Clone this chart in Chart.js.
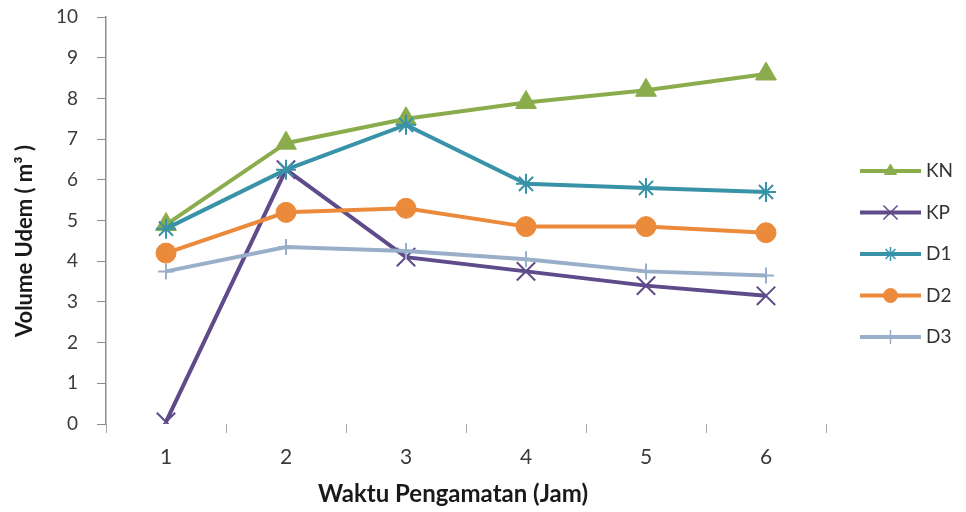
<!DOCTYPE html>
<html>
<head>
<meta charset="utf-8">
<script src="https://cdn.jsdelivr.net/npm/chart.js@4/dist/chart.umd.min.js"></script>
<style>
  html, body { margin: 0; padding: 0; background: #ffffff; }
  #wrap { width: 966px; height: 512px; position: relative; }
</style>
</head>
<body>
<div id="wrap"><canvas id="chart" width="966" height="512"></canvas></div>
<script>
// Observation times (hours)
const hours = ['1', '2', '3', '4', '5', '6'];

// Oedema volume per group
const kn = [4.9, 6.9, 7.5, 7.9, 8.2, 8.6];
const kp = [0.05, 6.25, 4.1, 3.75, 3.4, 3.15];
const d1 = [4.8, 6.25, 7.35, 5.9, 5.8, 5.7];
const d2 = [4.2, 5.2, 5.3, 4.85, 4.85, 4.7];
const d3 = [3.75, 4.35, 4.25, 4.05, 3.75, 3.65];

const yTicks = [0, 1, 2, 3, 4, 5, 6, 7, 8, 9, 10];

const xTitle = 'Waktu Pengamatan (Jam)';
const yTitle = 'Volume Udem ( m³ )';

const FONT = 'Lato, "Open Sans", "DejaVu Sans", sans-serif';

function series(label, data, color, style, radius, fill) {
  return {
    label: label,
    data: data,
    borderColor: color,
    backgroundColor: fill ? color : 'rgba(0,0,0,0)',
    pointBackgroundColor: color,
    pointBorderColor: color,
    pointStyle: style,
    pointRadius: radius,
    pointHoverRadius: radius,
    pointBorderWidth: fill ? 1 : 2,
    borderWidth: 4,
    tension: 0,
    fill: false
  };
}

const datasets = [
  series('KN', kn, '#8bac4c', 'triangle', 12, true),
  series('KP', kp, '#5f4a8a', 'crossRot', 13, false),
  series('D1', d1, '#3993a8', 'star', 10, false),
  series('D2', d2, '#ec8a3c', 'circle', 10, true),
  series('D3', d3, '#99afc9', 'cross', 8, false)
];
// later series painted above earlier ones
datasets.forEach((d, i) => { d.order = datasets.length - i; });

// Legend on the right: short line with the series marker, then its name
const sideLegend = {
  id: 'sideLegend',
  afterDraw(chart) {
    const ctx = chart.ctx;
    const x0 = 860, x1 = 921, tx = 926;
    const y0 = 171, step = 41.5;
    chart.data.datasets.forEach((ds, i) => {
      const y = y0 + i * step;
      ctx.save();
      ctx.strokeStyle = ds.borderColor;
      ctx.lineWidth = 4;
      ctx.beginPath();
      ctx.moveTo(x0, y);
      ctx.lineTo(x1, y);
      ctx.stroke();
      ctx.fillStyle = ds.pointBackgroundColor;
      ctx.strokeStyle = ds.pointBorderColor;
      ctx.lineWidth = ds.pointStyle === 'triangle' || ds.pointStyle === 'circle' ? 1 : 1.5;
      Chart.helpers.drawPoint(ctx, {
        pointStyle: ds.pointStyle,
        radius: ds.pointStyle === 'crossRot' ? 10 : 7,
        rotation: 0,
        borderWidth: ctx.lineWidth
      }, (x0 + x1) / 2, y);
      ctx.fillStyle = '#333333';
      ctx.font = '19px ' + FONT;
      ctx.textAlign = 'left';
      ctx.textBaseline = 'middle';
      ctx.fillText(ds.label, tx, y);
      ctx.restore();
    });
  }
};

// Axis titles
const axisTitles = {
  id: 'axisTitles',
  afterDraw(chart) {
    const ctx = chart.ctx;
    ctx.save();
    ctx.fillStyle = '#1a1a1a';
    ctx.textAlign = 'center';
    ctx.textBaseline = 'middle';
    ctx.font = 'bold 24px ' + FONT;
    ctx.fillText(xTitle, 453, 494);
    ctx.translate(25, 241);
    ctx.rotate(-Math.PI / 2);
    ctx.font = 'bold 22px ' + FONT;
    ctx.fillText(yTitle, 0, 0);
    ctx.restore();
  }
};

new Chart(document.getElementById('chart'), {
  type: 'line',
  data: { labels: hours, datasets: datasets },
  plugins: [sideLegend, axisTitles],
  options: {
    responsive: false,
    animation: false,
    events: [],
    layout: { padding: { left: 10, right: 140, top: 17, bottom: 4 } },
    plugins: {
      legend: { display: false },
      tooltip: { enabled: false }
    },
    scales: {
      x: {
        offset: true,
        grid: {
          offset: true,
          drawOnChartArea: false,
          drawTicks: true,
          tickLength: 9,
          color: '#a8a8a8'
        },
        border: { display: false },
        ticks: {
          color: '#3a3a3a',
          font: { family: FONT, size: 21 },
          padding: 12
        },
        afterFit(scale) {
          scale.height = 84;
          scale.paddingLeft = 0;
          scale.paddingRight = 0;
        }
      },
      y: {
        min: 0,
        max: 10,
        afterBuildTicks(scale) { scale.ticks = yTicks.map(v => ({ value: v })); },
        grid: {
          drawOnChartArea: false,
          drawTicks: true,
          tickLength: 9,
          color: '#8c8c8c'
        },
        border: { display: true, color: '#8c8c8c', width: 1.5 },
        ticks: {
          color: '#3a3a3a',
          font: { family: FONT, size: 19 },
          padding: 19
        },
        afterFit(scale) {
          scale.width = 96;
          scale.paddingTop = 0;
          scale.paddingBottom = 0;
        }
      }
    }
  }
});
</script>
</body>
</html>
